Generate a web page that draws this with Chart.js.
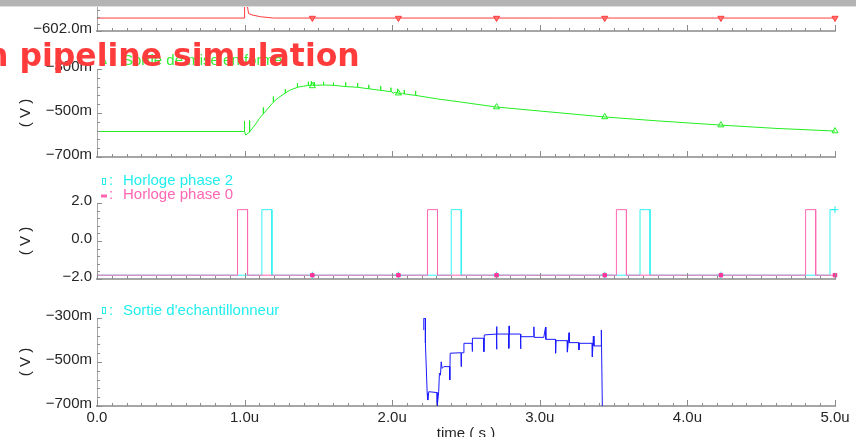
<!DOCTYPE html>
<html>
<head>
<meta charset="utf-8">
<script src="https://cdn.jsdelivr.net/npm/chart.js@4.4.1/dist/chart.umd.min.js"></script>
<style>
  html, body { margin: 0; padding: 0; background: #fff; width: 856px; height: 437px; overflow: hidden; }
  canvas { position: absolute; left: 0; }
  .topbar { position: absolute; left: 0; top: 0; width: 856px; height: 6px; background: #b4b4b4; border-bottom: 1px solid #dedede; z-index: 5; }
  .title { position: absolute; left: -14px; top: 40px; font: bold 31.5px "DejaVu Sans"; line-height: 31px; color: #ff3b3b; white-space: nowrap; z-index: 6; }
  .lg { position: absolute; font: 15px "Liberation Sans"; line-height: 16px; white-space: nowrap; }
  .mk { position: absolute; }
</style>
</head>
<body>
<canvas id="panelTop" width="856" height="63" style="top:-17px"></canvas>
<canvas id="panelShaper" width="856" height="123" style="top:49px"></canvas>
<canvas id="panelClock" width="856" height="111" style="top:183px"></canvas>
<canvas id="panelSampler" width="856" height="145" style="top:298px"></canvas>

<div class="topbar"></div>

<!-- legends -->
<svg class="mk" style="left:100px;top:57px" width="7" height="7"><polygon points="3.5,0.5 6.5,6.5 0.5,6.5" fill="none" stroke="#33ee33"/></svg>
<div class="lg" style="left:109px;top:52px;color:#33ee33">:</div>
<div class="lg" style="left:123px;top:52px;color:#33ee33">Sortie de mise en forme</div>

<svg class="mk" style="left:102px;top:178px" width="5" height="8"><rect x="0.5" y="0.5" width="3" height="6" fill="none" stroke="#22eeee"/></svg>
<div class="lg" style="left:109px;top:172px;color:#22eeee">:</div>
<div class="lg" style="left:123px;top:172px;color:#22eeee">Horloge phase 2</div>

<svg class="mk" style="left:101px;top:194px" width="7" height="4"><rect x="0" y="0.5" width="6" height="3" fill="#ff66b2"/></svg>
<div class="lg" style="left:109px;top:186px;color:#ff66b2">:</div>
<div class="lg" style="left:123px;top:186px;color:#ff66b2">Horloge phase 0</div>

<svg class="mk" style="left:102px;top:307px" width="5" height="8"><rect x="0.5" y="0.5" width="3" height="6" fill="none" stroke="#22eeee"/></svg>
<div class="lg" style="left:109px;top:302px;color:#22eeee">:</div>
<div class="lg" style="left:123px;top:302px;color:#22eeee">Sortie d'echantillonneur</div>

<div class="title">n pipeline simulation</div>

<script>
// --- Data (time in µs, volts in mV unless noted) ---
const timeLabels = ['0.0', '1.0u', '2.0u', '3.0u', '4.0u', '5.0u'];
const markerTimes = [1.459, 2.042, 2.707, 3.44, 4.227, 5.0];

// top trace (mV), mostly off the picture
const topWave = [[0, -601.815], [1.0, -601.815], [1.0, -601.4], [1.017, -601.62], [1.027, -601.75],
  [1.05, -601.77], [1.107, -601.796], [1.196, -601.815], [5.0, -601.815]];
const topMarkerVolts = [-601.815, -601.815, -601.815, -601.815, -601.815, -601.815];

// "Sortie de mise en forme" (mV)
const shaperWave = [[0, -584], [0.998, -584], [0.999, -537], [1.0, -584], [1.008, -600], [1.03, -588],
  [1.032, -534], [1.034, -588], [1.036, -585], [1.07, -555], [1.1, -525], [1.125, -505], [1.126, -475],
  [1.128, -503], [1.16, -478], [1.193, -452], [1.194, -425], [1.196, -450], [1.23, -430], [1.274, -410],
  [1.275, -392], [1.277, -409], [1.31, -395], [1.356, -384], [1.357, -365], [1.359, -383], [1.4, -378],
  [1.43, -375], [1.431, -358], [1.433, -375], [1.45, -374], [1.451, -356], [1.453, -374], [1.47, -374],
  [1.471, -360], [1.473, -374], [1.533, -373], [1.534, -358], [1.536, -373], [1.6, -374], [1.601, -362],
  [1.603, -374], [1.683, -380], [1.684, -361], [1.686, -380], [1.764, -383], [1.765, -365], [1.767, -383],
  [1.84, -390], [1.841, -372], [1.843, -390], [1.92, -397], [1.921, -378], [1.923, -397], [1.99, -403],
  [1.991, -385], [1.993, -403], [2.01, -410], [2.02, -405], [2.035, -409], [2.036, -390], [2.038, -409],
  [2.06, -414], [2.07, -410], [2.08, -413], [2.081, -395], [2.083, -413], [2.157, -420], [2.158, -400],
  [2.16, -420], [2.307, -436], [2.463, -450], [2.707, -473], [3.0, -491], [3.44, -518], [3.8, -536],
  [4.227, -555], [4.6, -570], [5.0, -582]];
const shaperMarkerVolts = [-377, -410, -473, -518, -555, -582];

// clocks (V)
const clockPhase0 = [[0, -1.8], [0.952, -1.8], [0.952, 1.65], [1.02, 1.65], [1.02, -1.8],
  [2.239, -1.8], [2.239, 1.65], [2.307, 1.65], [2.307, -1.8], [3.519, -1.8], [3.519, 1.65],
  [3.587, 1.65], [3.587, -1.8], [4.801, -1.8], [4.801, 1.65], [4.869, 1.65], [4.869, -1.8], [5.0, -1.8]];
const clockPhase2 = [[0, -1.8], [1.117, -1.8], [1.117, 1.65], [1.185, 1.65], [1.185, -1.8],
  [2.4, -1.8], [2.4, 1.65], [2.468, 1.65], [2.468, -1.8], [3.679, -1.8], [3.679, 1.65],
  [3.747, 1.65], [3.747, -1.8], [4.966, -1.8], [4.966, 1.65], [5.0, 1.65]];
const phase0MarkerVolts = [-1.8, -1.8, -1.8, -1.8, -1.8, -1.8];
const phase2MarkerVolts = [-1.8, -1.8, -1.8, -1.8, -1.8, 1.65];

// "Sortie d'echantillonneur" (mV)
const samplerWave = [[2.214, -355], [2.214, -301], [2.225, -301], [2.225, -414], [2.237, -642],
  [2.241, -673], [2.248, -635], [2.304, -639], [2.305, -703], [2.315, -635], [2.32, -551], [2.327, -560],
  [2.332, -499], [2.338, -529], [2.349, -521], [2.389, -521], [2.39, -582], [2.393, -460], [2.466, -458],
  [2.467, -521], [2.469, -458], [2.484, -458], [2.486, -415], [2.541, -415], [2.542, -452], [2.545, -392],
  [2.62, -392], [2.621, -453], [2.624, -377], [2.706, -373], [2.707, -339], [2.708, -442], [2.71, -373],
  [2.789, -373], [2.79, -438], [2.792, -336], [2.794, -373], [2.869, -373], [2.87, -440], [2.872, -385],
  [2.958, -385], [2.96, -340], [2.962, -388], [3.027, -388], [3.039, -341], [3.041, -397], [3.106, -397],
  [3.107, -460], [3.11, -403], [3.186, -403], [3.187, -455], [3.198, -367], [3.2, -412], [3.264, -412],
  [3.265, -445], [3.268, -415], [3.355, -415], [3.356, -476], [3.363, -382], [3.367, -427], [3.416, -427],
  [3.417, -355], [3.424, -720]];

// --- Helpers ---
const TEXT = '#262626';
const AXIS = '#a6a6a6';
const FONT = { family: 'Liberation Sans', size: 15 };
const MINUS = '\u2212';

function onStep(v, base, step) {
  const k = (v - base) / step;
  return Math.abs(k - Math.round(k)) < 1e-6;
}

// tick marks drawn inward from the axes, long ones on major values
const innerTicks = {
  id: 'innerTicks',
  afterDraw(chart, args, opts) {
    const { ctx, chartArea: area, scales: { x, y } } = chart;
    ctx.save();
    ctx.strokeStyle = '#8c8c8c';
    ctx.lineWidth = 1;
    ctx.beginPath();
    x.ticks.forEach(t => {
      const px = Math.round(x.getPixelForValue(t.value)) + 0.5;
      const len = onStep(t.value, 0, 1) ? 6 : 3;
      ctx.moveTo(px, area.bottom);
      ctx.lineTo(px, area.bottom - len);
    });
    y.ticks.forEach(t => {
      const py = Math.round(y.getPixelForValue(t.value)) + 0.5;
      const len = onStep(t.value, opts.yBase, opts.yMajor) ? 5 : 3;
      ctx.moveTo(area.left, py);
      ctx.lineTo(area.left + len, py);
    });
    ctx.stroke();
    ctx.restore();
  }
};

function wave(points, color) {
  return {
    data: points.map(([t, v]) => ({ x: t, y: v })),
    borderColor: color, borderWidth: 1, pointRadius: 0, tension: 0, fill: false
  };
}

function markers(volts, style) {
  return Object.assign({
    data: markerTimes.map((t, i) => ({ x: t, y: volts[i] })),
    showLine: false, clip: false, pointBorderWidth: 1
  }, style);
}

function xTimeLabel(v) {
  if (!onStep(v, 0, 1)) return '';
  return timeLabels[Math.round(v)];
}

function makePanel(id, cfg) {
  const showX = !!cfg.showX;
  return new Chart(document.getElementById(id), {
    type: 'line',
    data: { datasets: cfg.datasets },
    plugins: [innerTicks],
    options: {
      responsive: false,
      animation: false,
      events: [],
      layout: { padding: { top: 20, right: 21, bottom: showX ? 0 : 11, left: 0 } },
      plugins: {
        legend: { display: false },
        tooltip: { enabled: false },
        innerTicks: { yBase: cfg.yMin, yMajor: cfg.yMajor }
      },
      scales: {
        x: {
          type: 'linear', min: 0, max: 5,
          afterFit: s => { s.height = showX ? 37 : 4; },
          grid: { drawOnChartArea: false, drawTicks: false },
          border: { color: AXIS, width: 2 },
          ticks: {
            display: showX, stepSize: 0.1, autoSkip: false, maxRotation: 0, minRotation: 0,
            padding: 3, color: TEXT, font: FONT, callback: xTimeLabel
          },
          title: { display: showX, text: 'time ( s )', color: TEXT, font: FONT, padding: { top: 0, bottom: 0 } }
        },
        y: {
          min: cfg.yMin, max: cfg.yMax,
          afterFit: s => { s.width = 97; },
          grid: { drawOnChartArea: false, drawTicks: false },
          border: { color: AXIS, width: 1 },
          ticks: {
            stepSize: cfg.yStep, autoSkip: false, padding: 5, labelOffset: -2,
            color: TEXT, font: FONT,
            callback: v => onStep(v, cfg.yMin, cfg.yMajor) ? cfg.yFormat(v) : ''
          },
          title: { display: cfg.yTitle, text: '( V )', color: TEXT, font: FONT, padding: { top: 17, bottom: 0 } }
        }
      }
    }
  });
}

const milli = v => (v < 0 ? MINUS : '') + Math.abs(Math.round(v)) + 'm';
const volt = v => (v < -1e-9 ? MINUS : '') + Math.abs(v).toFixed(1);

makePanel('panelTop', {
  yMin: -602.0, yMax: -601.6, yStep: 0.1, yMajor: 1, yTitle: false,
  yFormat: v => MINUS + Math.abs(v).toFixed(1) + 'm',
  datasets: [
    markers(topMarkerVolts, { pointStyle: 'triangle', pointRotation: 180, pointRadius: 3.5,
      backgroundColor: '#ff7070', borderColor: '#ff3c3c' }),
    wave(topWave, '#ff3c3c')
  ]
});

makePanel('panelShaper', {
  yMin: -700, yMax: -300, yStep: 40, yMajor: 200, yTitle: true, yFormat: milli,
  datasets: [
    markers(shaperMarkerVolts, { pointStyle: 'triangle', pointRadius: 3.5,
      backgroundColor: 'rgba(0,0,0,0)', borderColor: '#22ee22' }),
    wave(shaperWave, '#22ee22')
  ]
});

makePanel('panelClock', {
  yMin: -2, yMax: 2, yStep: 0.4, yMajor: 2, yTitle: true, yFormat: volt,
  datasets: [
    markers(phase0MarkerVolts, { pointStyle: 'rect', pointRadius: 2.5,
      backgroundColor: '#ff3399', borderColor: '#ff3399' }),
    markers(phase2MarkerVolts, { pointStyle: 'cross', pointRadius: 3.5,
      backgroundColor: '#22eeee', borderColor: '#22eeee' }),
    wave(clockPhase0, '#ff66b2'),
    wave(clockPhase2, '#33f2f2')
  ]
});

makePanel('panelSampler', {
  yMin: -700, yMax: -300, yStep: 40, yMajor: 200, yTitle: true, yFormat: milli, showX: true,
  datasets: [
    wave(samplerWave, '#1a1aff')
  ]
});
</script>
</body>
</html>
